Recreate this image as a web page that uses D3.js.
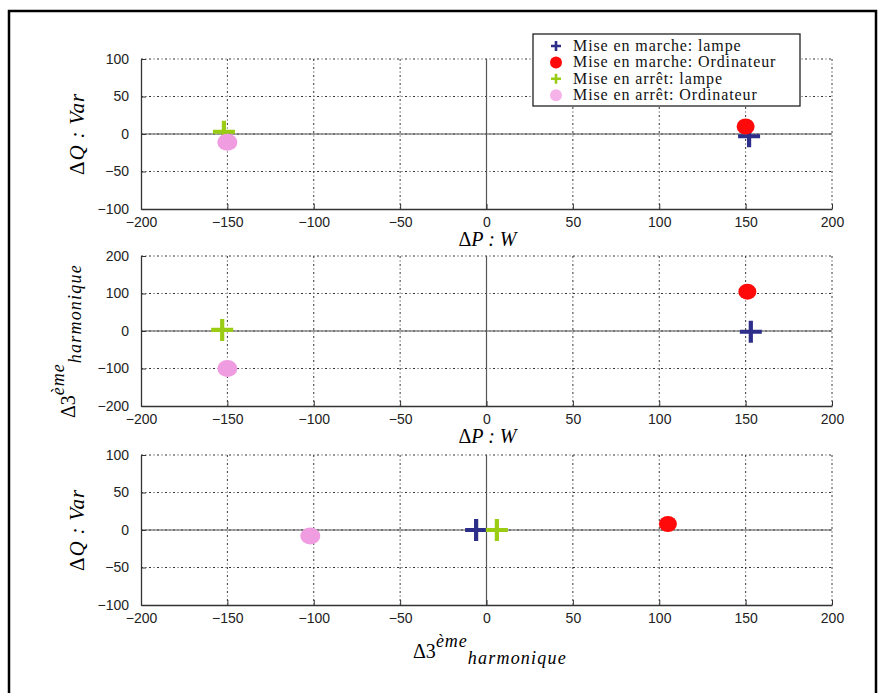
<!DOCTYPE html>
<html><head><meta charset="utf-8">
<script src="https://cdn.jsdelivr.net/npm/d3@7"></script>
<style>body{margin:0;background:#fff}svg{display:block}</style>
</head><body>
<svg id="c" width="881" height="693"></svg>
<script>
// ---- data ----
const seriesNames = ["Mise en marche: lampe", "Mise en marche: Ordinateur", "Mise en arrêt: lampe", "Mise en arrêt: Ordinateur"];
const xTicks = [-200, -150, -100, -50, 0, 50, 100, 150, 200];
const qTicks = [-100, -50, 0, 50, 100];
const hTicks = [-200, -100, 0, 100, 200];
// panel 1: ΔP (W) vs ΔQ (Var)
const p1X = [152, 150, -152, -150];
const p1Y = [-3, 10, 3, -11];
// panel 2: ΔP (W) vs Δ3ème harmonique
const p2X = [153, 151, -153, -150];
const p2Y = [-2, 105, 3, -100];
// panel 3: Δ3ème harmonique vs ΔQ (Var)
const p3X = [-6, 105, 6, -102];
const p3Y = [0, 8, 0, -8];

// ---- styles ----
const colors = ["#2d2d8a", "#ff0a0a", "#9bcc14", "#f09ce0"];
const shapes = ["plus", "dot", "plus", "dot"];

const svg = d3.select("#c");
svg.append("rect").attr("x", 9).attr("y", 11).attr("width", 867).attr("height", 700)
  .attr("fill", "none").attr("stroke", "#000").attr("stroke-width", 2.5);

const X0 = 141, X1 = 832;
const panels = [
  {top: 59, bot: 209, xs: p1X, ys: p1Y, yd: [-100, 100], yt: qTicks, xlab: "P", ylab: "Q"},
  {top: 256, bot: 406, xs: p2X, ys: p2Y, yd: [-200, 200], yt: hTicks, xlab: "P", ylab: "H"},
  {top: 455, bot: 605, xs: p3X, ys: p3Y, yd: [-100, 100], yt: qTicks, xlab: "H", ylab: "Q"}
];

const grid = "#111", gridDash = "2,2.5,1,2.5";
const tickFont = "'Liberation Sans', Arial, sans-serif";
const serif = "'Liberation Serif', 'Times New Roman', serif";

panels.forEach(p => {
  const x = d3.scaleLinear().domain([-200, 200]).range([X0, X1]);
  const y = d3.scaleLinear().domain(p.yd).range([p.bot, p.top]);
  const g = svg.append("g");
  // grid
  g.selectAll(".vg").data(xTicks.slice(1)).join("line")
    .attr("x1", d => x(d)).attr("x2", d => x(d)).attr("y1", p.top).attr("y2", p.bot)
    .attr("stroke", grid).attr("stroke-width", 1).attr("stroke-dasharray", gridDash).attr("opacity", 0.85);
  g.selectAll(".hg").data(p.yt.slice(1)).join("line")
    .attr("y1", d => y(d)).attr("y2", d => y(d)).attr("x1", X0).attr("x2", X1)
    .attr("stroke", grid).attr("stroke-width", 1).attr("stroke-dasharray", gridDash).attr("opacity", 0.85);
  // zero lines
  g.append("line").attr("x1", X0).attr("x2", X1).attr("y1", y(0)).attr("y2", y(0))
    .attr("stroke", "#555").attr("stroke-width", 1.2);
  g.append("line").attr("x1", x(0)).attr("x2", x(0)).attr("y1", p.top).attr("y2", p.bot)
    .attr("stroke", "#555").attr("stroke-width", 1.2);
  // axes
  const xa = g.append("g").attr("transform", `translate(0,${p.bot})`)
    .call(d3.axisBottom(x).tickValues(xTicks).tickSize(-5).tickPadding(10).tickSizeOuter(0));
  const ya = g.append("g").attr("transform", `translate(${X0},0)`)
    .call(d3.axisLeft(y).tickValues(p.yt).tickSize(-5).tickPadding(12).tickSizeOuter(0));
  [xa, ya].forEach(a => {
    a.select(".domain").attr("stroke", "#333").attr("stroke-width", 1.3);
    a.selectAll(".tick line").attr("stroke", "#333");
    a.selectAll("text").attr("font-family", tickFont).attr("font-size", 14).attr("fill", "#222");
  });
  xa.selectAll("text").attr("dy", "0.55em");
  // points
  p.xs.forEach((vx, i) => {
    const cx = x(vx), cy = y(p.ys[i]);
    if (shapes[i] === "plus") {
      g.append("path").attr("d", `M${cx - 11},${cy}H${cx + 11}M${cx},${cy - 11}V${cy + 11}`)
        .attr("stroke", colors[i]).attr("stroke-width", 4.2).attr("fill", "none");
    } else {
      g.append("ellipse").attr("cx", cx).attr("cy", cy)
        .attr("rx", i === 1 ? 9 : 10).attr("ry", i === 1 ? 8 : 8.5).attr("fill", colors[i]);
    }
  });

  // x label
  const cxm = (X0 + X1) / 2;
  if (p.xlab === "P") {
    const t = svg.append("text").attr("x", cxm + 1).attr("y", p.bot + 37).attr("text-anchor", "middle")
      .attr("font-family", serif).attr("font-size", 20);
    t.append("tspan").text("Δ");
    t.append("tspan").attr("font-style", "italic").text("P : W");
  } else {
    const t = svg.append("text").attr("x", 413).attr("y", 658)
      .attr("font-family", serif).attr("font-size", 20);
    t.append("tspan").text("Δ3");
    t.append("tspan").attr("font-style", "italic").attr("font-size", 18).attr("dy", -11)
      .attr("letter-spacing", 1).text("ème");
    t.append("tspan").attr("font-style", "italic").attr("font-size", 18).attr("dy", 17)
      .attr("letter-spacing", 1.2).text("harmonique");
  }
  // y label
  const cym = (p.top + p.bot) / 2;
  if (p.ylab === "Q") {
    const t = svg.append("text").attr("transform", `translate(84,${cym}) rotate(-90)`)
      .attr("text-anchor", "middle").attr("font-family", serif).attr("font-size", 21)
      .attr("letter-spacing", 0.8);
    t.append("tspan").text("Δ");
    t.append("tspan").attr("font-style", "italic").text("Q : Var");
  } else {
    const t = svg.append("text").attr("transform", `translate(75,418) rotate(-90)`)
      .attr("font-family", serif).attr("font-size", 20);
    t.append("tspan").text("Δ3");
    t.append("tspan").attr("font-style", "italic").attr("font-size", 18).attr("dy", -11)
      .attr("letter-spacing", 1).text("ème");
    t.append("tspan").attr("font-style", "italic").attr("font-size", 18).attr("dy", 17)
      .attr("letter-spacing", 1.2).text("harmonique");
  }
});

// legend
const lg = svg.append("g");
lg.append("rect").attr("x", 533).attr("y", 34).attr("width", 267).attr("height", 72)
  .attr("fill", "#fff").attr("stroke", "#222").attr("stroke-width", 1.3);
seriesNames.forEach((name, i) => {
  const yy = 46 + i * 16.4;
  if (shapes[i] === "plus") {
    lg.append("path").attr("d", `M${551},${yy}H${561}M${556},${yy - 5}V${yy + 5}`)
      .attr("stroke", colors[i]).attr("stroke-width", 2.6);
  } else {
    lg.append("circle").attr("cx", 556).attr("cy", yy).attr("r", 6)
      .attr("fill", i === 3 ? "#f5b3ea" : colors[i]);
  }
  lg.append("text").attr("x", 573).attr("y", yy + 5).attr("font-family", serif)
    .attr("font-size", 16).attr("letter-spacing", 0.9).attr("fill", "#111").text(name);
});
</script>
</body></html>
